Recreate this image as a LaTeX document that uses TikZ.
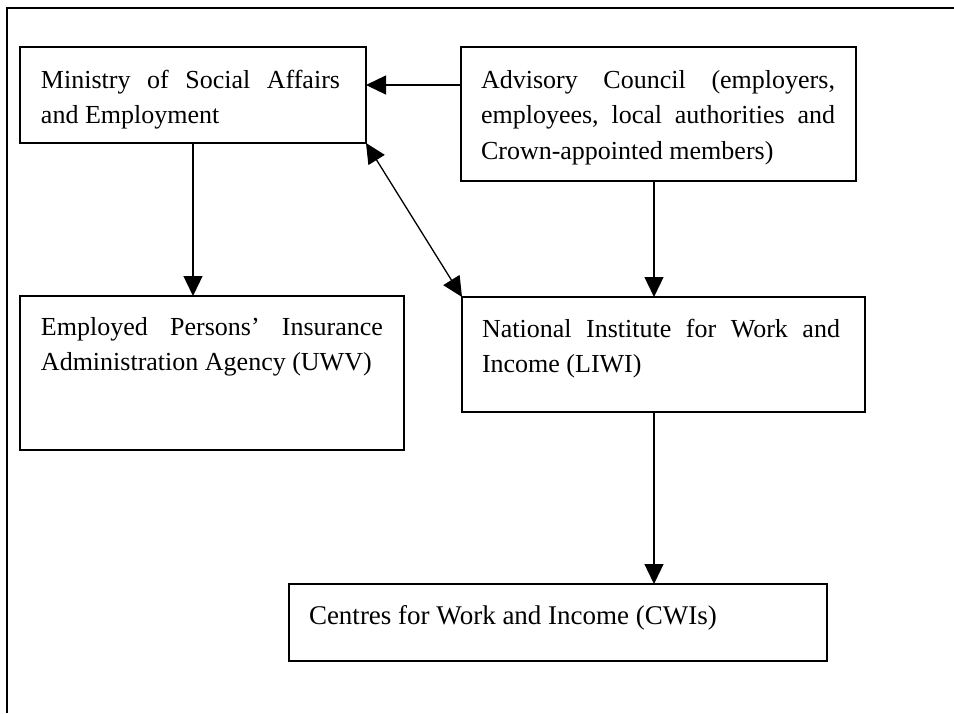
\documentclass[tikz,border=0pt]{standalone}
\usepackage{fontspec}
\setmainfont{Liberation Serif}
\usetikzlibrary{arrows.meta}

% one justified line of a given width
\newcommand{\fullline}[2]{\hbox to #1pt{#2}}

\begin{document}
\begin{tikzpicture}[x=1pt, y=-1pt,
  every path/.style={line width=1.3pt},
  orgbox/.style={draw, rectangle, inner sep=0pt, outer sep=0pt},
  boxtext/.style={anchor=base west, inner sep=0pt, outer sep=0pt,
    font=\fontsize{26}{35.5}\selectfont},
  link/.style={-{Triangle[length=20pt, width=19pt]}},
  twoway/.style={{Triangle[length=20pt, width=19pt]}-{Triangle[length=20pt, width=19pt]}}]

  \useasboundingbox (0,0) rectangle (954,713);

  % page frame
  \draw[line width=1.5pt] (7,713) -- (7,8) -- (954,8);

  % boxes
  \node[orgbox, minimum width=346pt, minimum height=96pt]  (min) at (193,95) {};
  \node[orgbox, minimum width=395pt, minimum height=134pt] (adv) at (658.5,114) {};
  \node[orgbox, minimum width=384pt, minimum height=154pt] (emp) at (212,373) {};
  \node[orgbox, minimum width=403pt, minimum height=115pt] (nat) at (663.5,354.5) {};
  \node[orgbox, minimum width=538pt, minimum height=77pt]  (cwi) at (558,622.5) {};

  % box texts
  \node[boxtext] (mintext) at (41,88) {\vtop{%
    \fullline{299}{Ministry\hfill of\hfill Social\hfill Affairs}
    \hbox{and Employment}}};
  \node[boxtext] (advtext) at (481,88) {\vtop{%
    \fullline{354}{Advisory\hfill Council\hfill (employers,}
    \fullline{354}{employees,\hfill local\hfill authorities\hfill and}
    \hbox{Crown-appointed members)}}};
  \node[boxtext] (emptext) at (41,335) {\vtop{%
    \fullline{342}{Employed\hfill Persons’\hfill Insurance}
    \hbox{Administration Agency (UWV)}}};
  \node[boxtext] (nattext) at (482,337) {\vtop{%
    \fullline{358}{National\hfill Institute\hfill for\hfill Work\hfill and}
    \hbox{Income (LIWI)}}};
  \node[boxtext, font=\fontsize{27}{35.5}\selectfont] (cwitext) at (309,624)
    {Centres for Work and Income (CWIs)};

  % connector guides
  \coordinate (row) at (0,85);
  \coordinate (col) at (654,0);

  % connectors
  \draw[link] (adv.west |- row) -- (min.east |- row);
  \draw[link] (min.south) -- (min.south |- emp.north);
  \draw[link] (adv.south -| col) -- (nat.north -| col);
  \draw[link] (nat.south -| col) -- (cwi.north -| col);
  \draw[twoway] (min.south east) -- (nat.north west);
\end{tikzpicture}
\end{document}
